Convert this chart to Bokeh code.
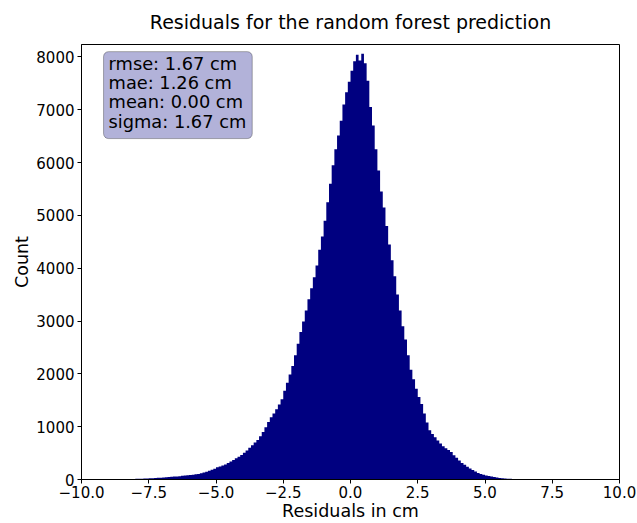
import numpy as np
from bokeh.plotting import figure
from bokeh.models import Label, FixedTicker, CustomJSTickFormatter, Range1d
from bokeh.embed import file_html
from bokeh.resources import INLINE

# Histogram of residuals (cm): bins of 0.1 cm starting at -8.3 cm
bin_start = -8.3
bin_width = 0.1
counts = [
    5, 8, 10, 12, 14, 15, 18, 20, 23, 25,
    28, 31, 35, 40, 43, 47, 51, 55, 59, 63,
    69, 75, 80, 86, 92, 98, 106, 118, 132, 148,
    165, 185, 205, 230, 245, 265, 285, 310, 340, 370,
    400, 430, 465, 505, 550, 600, 650, 700, 750, 820,
    900, 990, 1090, 1180, 1250, 1330, 1420, 1520, 1680, 1830,
    1990, 2150, 2350, 2570, 2790, 2990, 3200, 3410, 3620, 3830,
    4050, 4350, 4600, 4900, 5250, 5600, 5950, 6250, 6510, 6790,
    7100, 7330, 7530, 7740, 7920, 8040, 7930, 8060, 7880, 7550,
    7050, 6700, 6250, 5850, 5450, 5150, 4800, 4450, 4150, 3850,
    3500, 3200, 2900, 2650, 2350, 2080, 1900, 1720, 1560, 1430,
    1250, 1080, 930, 860, 800, 740, 680, 630, 590, 560,
    520, 460, 410, 360, 310, 280, 240, 210, 180, 150,
    125, 105, 90, 78, 65, 55, 45, 38, 30, 25,
    20, 15, 12, 8, 5, 3,
]

x_ticks = [-10.0, -7.5, -5.0, -2.5, 0.0, 2.5, 5.0, 7.5, 10.0]
y_ticks = [0, 1000, 2000, 3000, 4000, 5000, 6000, 7000, 8000]

title_text = "Residuals for the random forest prediction"
stats_lines = ["rmse: 1.67 cm", "mae: 1.26 cm", "mean: 0.00 cm", "sigma: 1.67 cm"]

FONT = "DejaVu Sans"
Y_MAX = 8235

# bin edges; the histogram is filled as one stepped area so adjacent bins show no seams
edges = bin_start + bin_width * np.arange(len(counts) + 1)
heights = list(counts) + [counts[-1]]

p = figure(
    width=637, height=523,
    output_backend="svg", toolbar_location=None,
    x_range=Range1d(-10, 10), y_range=Range1d(0, Y_MAX),
    min_border_left=81, min_border_right=18,
    min_border_top=43, min_border_bottom=44,
    title=title_text,
)

p.title.text_font = FONT
p.title.text_font_size = "19px"
p.title.text_font_style = "normal"
p.title.align = "center"
p.title.vertical_align = "top"
p.title.text_color = "black"
p.title.standoff = 20

p.varea_step(x=edges, y1=0, y2=heights, step_mode="after", fill_color="navy")

p.grid.visible = False
p.outline_line_color = "black"
p.outline_line_width = 1
p.background_fill_color = "white"
p.border_fill_color = "white"

for ax in (p.xaxis[0], p.yaxis[0]):
    ax.major_tick_in = 0
    ax.major_tick_out = 4
    ax.minor_tick_in = 0
    ax.minor_tick_out = 0
    ax.axis_line_color = "black"
    ax.major_tick_line_color = "black"
    ax.major_label_text_font = FONT
    ax.major_label_text_font_size = "15px"
    ax.major_label_text_color = "black"
    ax.axis_label_text_font = FONT
    ax.axis_label_text_font_size = "17.5px"
    ax.axis_label_text_font_style = "normal"
    ax.axis_label_text_color = "black"

p.xaxis.ticker = FixedTicker(ticks=x_ticks)
p.xaxis.formatter = CustomJSTickFormatter(
    code="return (tick < 0 ? '\u2212' : '') + Math.abs(tick).toFixed(1);")
p.xaxis.axis_label = "Residuals in cm"
p.xaxis.major_label_standoff = 2
p.xaxis.axis_label_standoff = 0

p.yaxis.ticker = FixedTicker(ticks=y_ticks)
p.yaxis.formatter = CustomJSTickFormatter(code="return tick.toFixed(0);")
p.yaxis.axis_label = "Count"
p.yaxis.major_label_standoff = 3
p.yaxis.axis_label_standoff = 1

stats = Label(
    x=-9.18, y=8100, x_units="data", y_units="data",
    text="\n".join(stats_lines), anchor="top_left",
    text_font=FONT, text_font_size="17.8px", text_color="black",
    text_line_height=0.92,
    background_fill_color="navy", background_fill_alpha=0.3,
    border_line_color="black", border_line_alpha=0.3,
    border_radius=5, padding=(5, 6, 1, 7),
)
p.add_layout(stats)

open("out.html", "w").write(file_html(p, INLINE))
